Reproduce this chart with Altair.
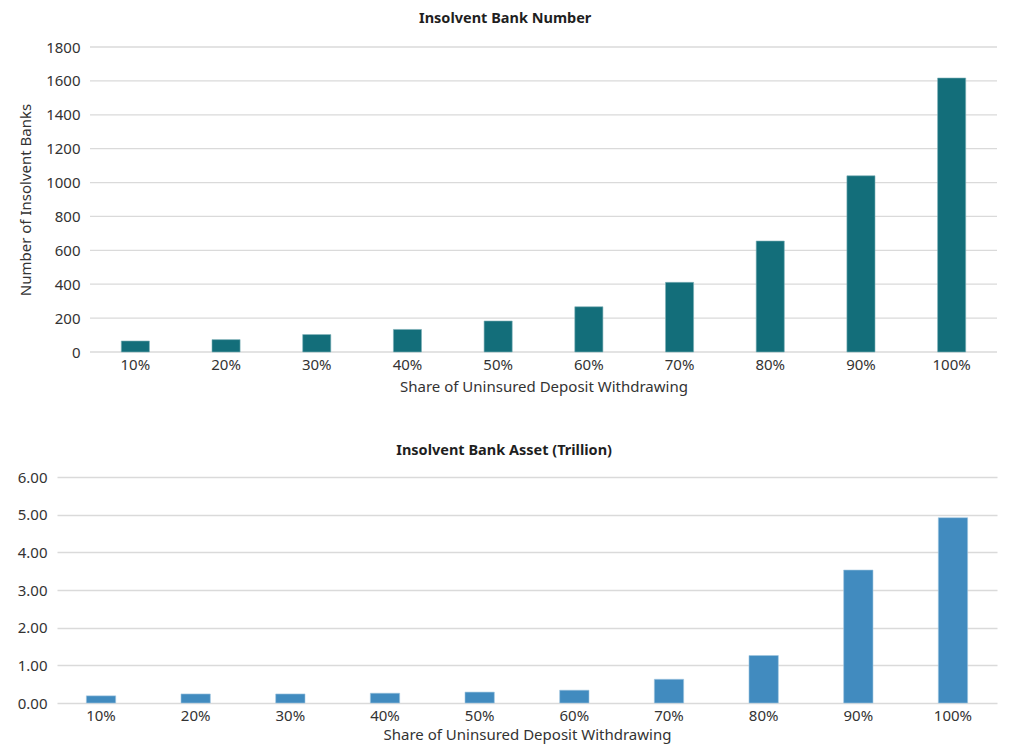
import altair as alt
import pandas as pd

# Scenario categories: share of uninsured deposits withdrawn
shares = ["10%", "20%", "30%", "40%", "50%", "60%", "70%", "80%", "90%", "100%"]

# Number of banks that become insolvent in each scenario
bank_counts = [65, 73, 103, 133, 183, 267, 411, 655, 1040, 1617]

# Assets of insolvent banks, in trillions
bank_assets = [0.19, 0.24, 0.24, 0.26, 0.29, 0.34, 0.63, 1.26, 3.53, 4.92]

# Gridline / tick values for each panel
count_ticks = [0, 200, 400, 600, 800, 1000, 1200, 1400, 1600, 1800]
asset_ticks = [0, 1, 2, 3, 4, 5, 6]

FONT = "Noto Sans"
LABEL_COLOR = "#333333"
TITLE_COLOR = "#1f1f1f"
GRID_COLOR = "#dadada"
GRID_WIDTH = 1.3
PANEL_W = 940
TOP_INSET = 33  # the upper panel's plot starts further right

count_df = pd.DataFrame({"share": shares, "banks": bank_counts})
asset_df = pd.DataFrame({"share": shares, "assets": bank_assets})
count_grid = pd.DataFrame({"banks": count_ticks})


def x_axis(title_padding):
    return alt.Axis(
        title="Share of Uninsured Deposit Withdrawing",
        labelAngle=0,
        ticks=False,
        domain=False,
        grid=False,
        labelFont=FONT,
        labelFontSize=15,
        labelColor=LABEL_COLOR,
        labelPadding=5,
        titleFont=FONT,
        titleFontSize=15,
        titleFontWeight="normal",
        titleColor=LABEL_COLOR,
        titlePadding=title_padding,
    )


def panel_title(text, offset):
    return alt.TitleParams(
        text,
        font=FONT,
        fontSize=14.5,
        fontWeight="bold",
        color=TITLE_COLOR,
        anchor="middle",
        frame="bounds",
        offset=offset,
        dx=-3,
    )


count_scale = alt.Scale(domain=[0, 1800], nice=False)
count_axis = alt.Axis(
    title="Number of Insolvent Banks",
    values=count_ticks,
    format="d",
    ticks=False,
    domain=False,
    grid=False,
    offset=-TOP_INSET,
    labelFont=FONT,
    labelFontSize=15,
    labelColor=LABEL_COLOR,
    labelPadding=10,
    titleFont=FONT,
    titleFontSize=15,
    titleFontWeight="normal",
    titleColor=LABEL_COLOR,
    titlePadding=12,
)

# Horizontal gridlines of the upper panel, spanning only its inset plot area
count_rules = (
    alt.Chart(count_grid)
    .mark_rule(color=GRID_COLOR, strokeWidth=GRID_WIDTH)
    .encode(
        y=alt.Y("banks:Q", scale=count_scale, axis=count_axis),
        x=alt.value(TOP_INSET),
        x2=alt.value(PANEL_W),
    )
)

count_bars = (
    alt.Chart(count_df)
    .mark_bar(color="#136e7a", stroke="#7fb1b8", strokeWidth=0.6)
    .encode(
        x=alt.X(
            "share:N",
            sort=shares,
            axis=x_axis(7),
            scale=alt.Scale(
                range=[TOP_INSET, PANEL_W], paddingInner=0.69, paddingOuter=0.345
            ),
        ),
        y=alt.Y("banks:Q", scale=count_scale, axis=count_axis),
    )
)

top = alt.layer(count_rules, count_bars).properties(
    width=PANEL_W,
    height=305,
    title=panel_title("Insolvent Bank Number", 14),
)

bottom = (
    alt.Chart(asset_df)
    .mark_bar(color="#418bbf", stroke="#a3c7e0", strokeWidth=0.6)
    .encode(
        x=alt.X(
            "share:N",
            sort=shares,
            axis=x_axis(4),
            scale=alt.Scale(paddingInner=0.69, paddingOuter=0.31),
        ),
        y=alt.Y(
            "assets:Q",
            scale=alt.Scale(domain=[0, 6], nice=False),
            axis=alt.Axis(
                title=None,
                values=asset_ticks,
                format=".2f",
                ticks=False,
                domain=False,
                grid=True,
                gridColor=GRID_COLOR,
                gridWidth=GRID_WIDTH,
                labelFont=FONT,
                labelFontSize=15,
                labelColor=LABEL_COLOR,
                labelPadding=10,
            ),
        ),
    )
    .properties(
        width=PANEL_W,
        height=226,
        title=panel_title("Insolvent Bank Asset (Trillion)", 12),
    )
)

chart = (
    alt.concat(top, bottom, columns=1, spacing=48)
    .properties(
        background="white",
        padding={"left": 17, "top": 10, "right": 20, "bottom": 5},
    )
    .configure_view(stroke="transparent", strokeWidth=0)
    .configure_axis(domain=False, ticks=False)
)

chart.save("out.html", embed_options={"renderer": "svg", "actions": False})
